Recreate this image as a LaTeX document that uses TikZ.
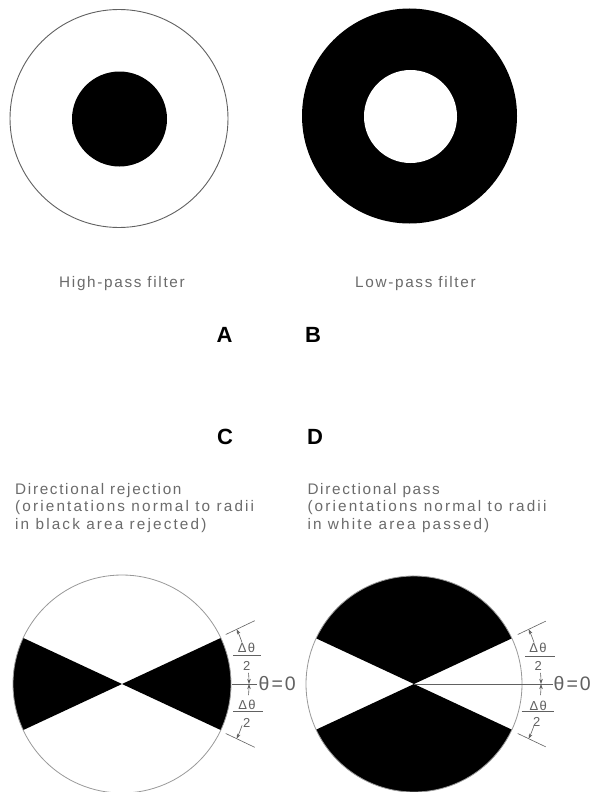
\documentclass[tikz,border=0pt]{standalone}
\usepackage{fontspec}
\setmainfont{Liberation Sans}
\newfontfamily\lblfont[LetterSpace=11]{Liberation Sans}
\newfontfamily\widefont[LetterSpace=14]{Liberation Sans}
\usetikzlibrary{calc,arrows.meta}
\begin{document}
\begin{tikzpicture}[x=1pt,y=-1pt,
  lbl/.style={font=\lblfont\fontsize{15.3}{17.5}\selectfont, text=black!58, inner sep=0pt, anchor=base west},
  lblw/.style={lbl, font=\widefont\fontsize{15.3}{17.5}\selectfont},
  letter/.style={font=\fontsize{22}{22}\selectfont\bfseries, inner sep=0pt},
  rim/.style={draw=black!40, line width=0.8pt},
  dim/.style={draw=black!62, line width=0.6pt},
  dimarrow/.style={dim, -{Stealth[length=5pt,width=3.5pt]}},
  fracl/.style={font=\lblfont\fontsize{13}{13}\selectfont, text=black!62, inner sep=0pt},
  zero/.style={font=\lblfont\fontsize{19.5}{19.5}\selectfont, text=black!62, inner sep=0pt, anchor=west}]
\useasboundingbox (0,0) rectangle (598,792);
\fill[white] (0,0) rectangle (598,792);

% ---- A: high-pass
\coordinate (hp) at (119,118.5);
\draw[draw=black!62, line width=0.9pt] (hp) circle[radius=109];
\fill (119.5,119) circle[radius=47.5];

% ---- B: low-pass
\coordinate (lp) at (409.5,116);
\fill (lp) circle[radius=107.5];
\fill[white] (410.5,116.5) circle[radius=46.5];

\node[lbl] (hpl) at (59,287) {High-pass filter};
\node[lbl] (lpl) at (355,287) {Low-pass filter};

\node[letter] (A) at (224.5,334.5) {A};
\node[letter] (B) at (313,334.5) {B};
\node[letter] (C) at (225,437) {C};
\node[letter] (D) at (315,437) {D};

\node[lbl] (c1) at (15,494) {Directional rejection};
\node[lblw] (c2) at (15,511.7) {(orientations normal to radii};
\node[lblw] (c3) at (15,529.3) {in black area rejected)};
\node[lbl] (d1) at (307.3,494) {Directional pass};
\node[lblw] (d2) at (307.3,511.7) {(orientations normal to radii};
\node[lblw] (d3) at (307.3,529.3) {in white area passed)};

% ---- C: directional rejection
\coordinate (cl) at (122,684);
\fill (cl) -- ($(cl)+(25:109)$) arc[start angle=25, end angle=-25, radius=109] -- cycle;
\fill (cl) -- ($(cl)+(155:109)$) arc[start angle=155, end angle=205, radius=109] -- cycle;
\draw[rim] (cl) circle[radius=109];

\draw[dim] ($(cl)+(25.5:115)$) -- ($(cl)+(25.5:147)$);
\draw[dim] ($(cl)+(-25.5:115)$) -- ($(cl)+(-25.5:147)$);
\draw[dim] ($(cl)+(0:110)$) -- ($(cl)+(0:135)$);
\draw[dimarrow] ($(cl)+(19:127)$) arc[start angle=19, end angle=25.5, radius=127];
\draw[dimarrow] ($(cl)+(-19:127)$) arc[start angle=-19, end angle=-25.5, radius=127];
\draw[dimarrow] ($(cl)+(5:127)$) arc[start angle=5, end angle=0, radius=127];
\draw[dimarrow] ($(cl)+(-5:127)$) arc[start angle=-5, end angle=0, radius=127];

\node[fracl] (cdt1) at (246.5,648) {Δθ};
\coordinate (cb1a) at (233,655.5); \coordinate (cb1b) at (261,655.5);
\draw[dim] (cb1a) -- (cb1b);
\node[fracl] (ctw1) at (246.7,666) {2};
\node[fracl] (cdt2) at (247,705) {Δθ};
\coordinate (cb2a) at (233,711.7); \coordinate (cb2b) at (263,711.7);
\draw[dim] (cb2a) -- (cb2b);
\node[fracl] (ctw2) at (246.7,722.7) {2};
\node[zero] (cz) at (258.5,683.5) {θ\hspace{2pt}=\hspace{2pt}0};

% ---- D: directional pass
\coordinate (cr) at (414,684);
\fill (cr) -- ($(cr)+(25:108)$) arc[start angle=25, end angle=155, radius=108] -- cycle;
\fill (cr) -- ($(cr)+(205:108)$) arc[start angle=205, end angle=335, radius=108] -- cycle;
\draw[rim] (cr) circle[radius=108];

\coordinate (crend) at (553,684);
\draw[dim, line width=0.5pt] (cr) -- (crend);
\draw[dim] ($(cr)+(25.5:115)$) -- ($(cr)+(25.5:146)$);
\draw[dim] ($(cr)+(-25.5:115)$) -- ($(cr)+(-25.5:146)$);
\draw[dimarrow] ($(cr)+(19:127)$) arc[start angle=19, end angle=25.5, radius=127];
\draw[dimarrow] ($(cr)+(-19:127)$) arc[start angle=-19, end angle=-25.5, radius=127];
\draw[dimarrow] ($(cr)+(5:127)$) arc[start angle=5, end angle=0, radius=127];
\draw[dimarrow] ($(cr)+(-5:127)$) arc[start angle=-5, end angle=0, radius=127];

\node[fracl] (ddt1) at (538,648.3) {Δθ};
\coordinate (db1a) at (525,656); \coordinate (db1b) at (555,656);
\draw[dim] (db1a) -- (db1b);
\node[fracl] (dtw1) at (538.3,666) {2};
\node[fracl] (ddt2) at (538.3,706) {Δθ};
\coordinate (db2a) at (521.7,711.7); \coordinate (db2b) at (554,711.7);
\draw[dim] (db2a) -- (db2b);
\node[fracl] (dtw2) at (536.7,721.7) {2};
\node[zero] (dz) at (553.5,684) {θ\hspace{2pt}=\hspace{2pt}0};
\end{tikzpicture}
\end{document}
